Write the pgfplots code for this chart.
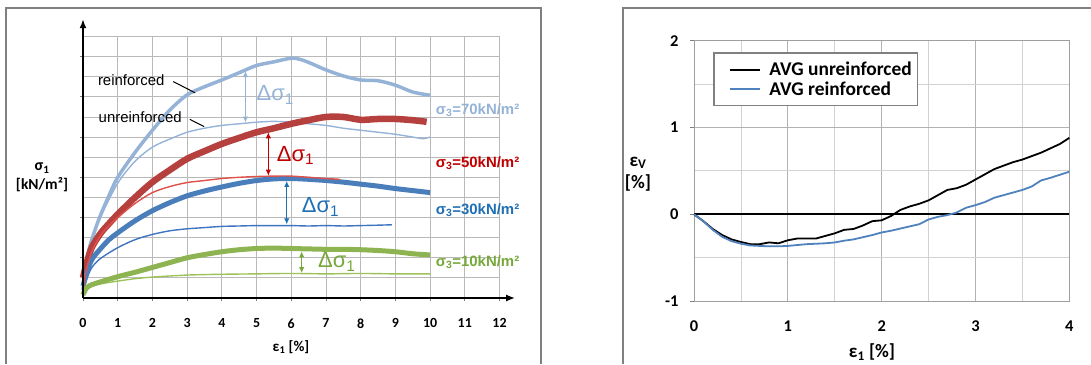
\documentclass[border=0pt]{standalone}
\usepackage{pgfplots}
\pgfplotsset{compat=1.18}
\usepackage{fontspec}
\setmainfont{Liberation Sans}
\newfontfamily\calib{Carlito}
\usetikzlibrary{arrows.meta}

\definecolor{lblue}{HTML}{95B3D7}
\definecolor{redthick}{HTML}{B5403D}
\definecolor{redthin}{HTML}{E0504A}
\definecolor{redtxt}{HTML}{C00000}
\definecolor{bluethick}{HTML}{4A7EBB}
\definecolor{bluethin}{HTML}{3F74C0}
\definecolor{bluetxt}{HTML}{1F6FB5}
\definecolor{greenthick}{HTML}{8DB451}
\definecolor{greenthin}{HTML}{9BC35A}
\definecolor{greentxt}{HTML}{77A83A}
\definecolor{avgblue}{HTML}{4F81BD}
\definecolor{framegray}{HTML}{808080}

\begin{document}
\begin{tikzpicture}[x=1bp,y=1bp]
\useasboundingbox (0,0) rectangle (1091,364);
\draw[framegray, line width=1.6bp] (6,0) -- (6,356) -- (541,356) -- (541,0);
\draw[framegray, line width=1.6bp] (623,0) -- (623,356) -- (1091,356);

% ---------------- left panel ----------------
\begin{axis}[at={(83bp,66bp)}, anchor=south west, scale only axis,
  width=416.5bp, height=261.5bp,
  xmin=0, xmax=12, ymin=0, ymax=6.5, clip=false,
  axis line style={draw=none},
  xtick={0,...,12}, ytick={1,...,6}, yticklabels={},
  minor ytick={0.5,1.5,...,6.5},
  grid=both,
  major grid style={gray!55, line width=0.8bp},
  minor grid style={gray!55, line width=0.8bp},
  tick align=outside, tick pos=left, major tick length=3bp, minor tick length=0pt,
  tick style={gray, line width=0.8bp},
  /pgf/number format/assume math mode=true,
  xticklabel style={font=\calib\bfseries\fontsize{14}{14}\selectfont, yshift=-14bp},
]
% unreinforced (thin)
\addplot[lblue, line width=1.4bp, smooth] coordinates {(0,0.1)(0.1,0.8)(0.25,1.4)(0.5,2.0)(1,2.85)(1.5,3.4)(2,3.75)(2.5,3.95)(3,4.12)(3.5,4.22)(4,4.29)(4.5,4.33)(5,4.37)(5.5,4.39)(6,4.37)(6.5,4.33)(7,4.29)(7.5,4.22)(8,4.17)(8.5,4.12)(9,4.07)(9.5,4.0)(9.8,3.96)(10,4.0)};
\addplot[bluethin, line width=1.4bp, smooth] coordinates {(0,0.1)(0.1,0.45)(0.25,0.75)(0.5,0.98)(1,1.25)(1.5,1.45)(2,1.58)(2.5,1.67)(3,1.72)(3.5,1.75)(4,1.78)(4.5,1.79)(5,1.8)(5.5,1.8)(6,1.8)(6.5,1.79)(7,1.8)(7.5,1.79)(8,1.8)(8.5,1.81)(8.9,1.82)};
\addplot[greenthin, line width=1.4bp, smooth] coordinates {(0,0.03)(0.1,0.2)(0.25,0.29)(0.5,0.35)(1,0.42)(1.5,0.48)(2,0.52)(3,0.57)(4,0.59)(5,0.6)(6,0.61)(7,0.6)(8,0.61)(9,0.6)(10,0.6)};
% reinforced (thick)
\addplot[lblue, line width=3.5bp, smooth] coordinates {(0,0.2)(0.1,0.9)(0.2,1.3)(0.35,1.7)(0.5,2.05)(0.75,2.55)(1,3.0)(1.5,3.62)(2,4.17)(2.5,4.67)(3,5.05)(3.5,5.25)(4,5.42)(4.5,5.6)(5,5.78)(5.5,5.87)(6,5.96)(6.3,5.92)(6.6,5.82)(7,5.67)(7.5,5.52)(8,5.42)(8.5,5.4)(9,5.29)(9.5,5.12)(10,5.04)};
\addplot[redthick, line width=6.5bp, smooth] coordinates {(0,0.5)(0.1,0.85)(0.25,1.25)(0.5,1.6)(0.75,1.85)(1,2.08)(1.5,2.5)(2,2.88)(2.5,3.18)(3,3.46)(3.5,3.65)(4,3.83)(4.5,3.98)(5,4.12)(5.5,4.22)(6,4.33)(6.5,4.42)(7,4.5)(7.5,4.5)(8,4.43)(8.5,4.45)(9,4.45)(9.5,4.42)(9.9,4.38)};
\addplot[bluethick, line width=5bp, smooth] coordinates {(0,0.3)(0.1,0.6)(0.25,0.95)(0.5,1.22)(0.75,1.45)(1,1.62)(1.5,1.92)(2,2.17)(2.5,2.37)(3,2.54)(3.5,2.66)(4,2.76)(4.5,2.85)(5,2.92)(5.5,2.96)(6,2.97)(6.5,2.95)(7,2.92)(7.5,2.88)(8,2.83)(8.5,2.78)(9,2.72)(9.5,2.67)(10,2.62)};
\addplot[greenthick, line width=5bp, smooth] coordinates {(0,0.08)(0.1,0.25)(0.25,0.33)(0.5,0.4)(1,0.53)(1.5,0.64)(2,0.76)(2.5,0.88)(3,1.0)(3.5,1.08)(4,1.15)(4.5,1.2)(5,1.23)(5.5,1.24)(6,1.23)(6.5,1.22)(7,1.21)(7.5,1.21)(8,1.2)(8.5,1.18)(9,1.15)(9.5,1.1)(10,1.07)};
\addplot[redthin, line width=1.4bp, smooth] coordinates {(0,0.2)(0.1,0.7)(0.25,1.15)(0.5,1.55)(0.75,1.8)(1,2.0)(1.5,2.35)(2,2.62)(2.5,2.77)(3,2.87)(3.5,2.92)(4,2.97)(4.5,3.0)(5,3.02)(5.5,3.03)(6,3.03)(6.5,3.0)(7,2.97)(7.4,2.95)};
% axes with arrows
\draw[black, line width=1.6bp, -{Latex[length=9bp,width=7bp]}] (axis cs:0,0) -- (axis cs:12.45,0);
\draw[black, line width=1.6bp, -{Latex[length=9bp,width=7bp]}] (axis cs:0,0) -- (axis cs:0,6.93);
% delta arrows
\draw[lblue, line width=1.5bp, {Latex[length=6bp,width=5.5bp]}-{Latex[length=6bp,width=5.5bp]}] (axis cs:4.68,5.64) -- (axis cs:4.68,4.36);
\draw[redtxt, line width=1.5bp, {Latex[length=6bp,width=5.5bp]}-{Latex[length=6bp,width=5.5bp]}] (axis cs:5.34,4.12) -- (axis cs:5.34,3.04);
\draw[bluetxt, line width=1.5bp, {Latex[length=6bp,width=5.5bp]}-{Latex[length=6bp,width=5.5bp]}] (axis cs:5.87,2.91) -- (axis cs:5.87,1.83);
\draw[greentxt, line width=1.5bp, {Latex[length=6bp,width=5.5bp]}-{Latex[length=6bp,width=5.5bp]}] (axis cs:6.3,1.16) -- (axis cs:6.3,0.62);
% delta labels
\node[lblue, anchor=west, font=\fontsize{22}{22}\selectfont, inner sep=0] at (axis cs:5.0,5.05) {Δσ\textsubscript{1}};
\node[redtxt, anchor=west, font=\fontsize{22}{22}\selectfont, inner sep=0] at (axis cs:5.58,3.55) {Δσ\textsubscript{1}};
\node[bluetxt, anchor=west, font=\fontsize{22}{22}\selectfont, inner sep=0] at (axis cs:6.30,2.26) {Δσ\textsubscript{1}};
\node[greentxt, anchor=west, font=\fontsize{22}{22}\selectfont, inner sep=0] at (axis cs:6.77,0.9) {Δσ\textsubscript{1}};
% sigma3 labels
\node[lblue, anchor=west, font=\bfseries\fontsize{15}{15}\selectfont, inner sep=0] at (axis cs:10.16,4.67) {σ\textsubscript{3}=70kN/m²};
\node[redtxt, anchor=west, font=\bfseries\fontsize{15}{15}\selectfont, inner sep=0] at (axis cs:10.16,3.36) {σ\textsubscript{3}=50kN/m²};
\node[bluetxt, anchor=west, font=\bfseries\fontsize{15}{15}\selectfont, inner sep=0] at (axis cs:10.16,2.19) {σ\textsubscript{3}=30kN/m²};
\node[greentxt, anchor=west, font=\bfseries\fontsize{15}{15}\selectfont, inner sep=0] at (axis cs:10.16,0.89) {σ\textsubscript{3}=10kN/m²};
% curve annotations
\node[font=\fontsize{15}{15}\selectfont, inner sep=0] at (axis cs:1.39,5.42) {reinforced};
\node[font=\fontsize{15}{15}\selectfont, inner sep=0] at (axis cs:1.65,4.49) {unreinforced};
\draw[black, line width=1bp] (axis cs:2.60,5.38) -- (axis cs:3.23,5.10);
\draw[black, line width=1bp] (axis cs:3.08,4.44) -- (axis cs:3.49,4.26);
\end{axis}
\node[font=\calib\bfseries\fontsize{16}{16}\selectfont] at (42,196) {σ\textsubscript{1}};
\node[font=\calib\bfseries\fontsize{15.5}{15.5}\selectfont] at (42,179) {[kN/m²]};
\node[font=\calib\bfseries\fontsize{15}{15}\selectfont] at (291,17) {ε\textsubscript{1} [\%]};

% ---------------- right panel ----------------
\begin{axis}[at={(694bp,63bp)}, anchor=south west, scale only axis,
  width=375.3bp, height=260.3bp,
  xmin=0, xmax=4, ymin=-1, ymax=2, clip=false,
  xtick={0,...,4}, ytick={-1,0,1,2},
  minor xtick={0.5,1.5,2.5,3.5}, minor ytick={-0.5,0.5,1.5},
  grid=both,
  major grid style={gray!60, line width=0.8bp},
  minor grid style={gray!35, line width=0.8bp},
  axis line style={gray!75, line width=0.8bp},
  tick align=outside, major tick length=4bp, minor tick length=0pt,
  xtick style={draw=none}, ytick style={gray, line width=0.8bp},
  ytick pos=left,
  /pgf/number format/assume math mode=true,
  tick label style={font=\calib\bfseries\fontsize{16.5}{16.5}\selectfont},
  xticklabel style={yshift=-12bp},
  yticklabel style={xshift=-8bp},
  legend style={at={(0.0514,0.955)}, anchor=north west, draw=gray, line width=1.3bp,
    font=\calib\bfseries\fontsize{19.5}{19.5}\selectfont, inner xsep=5bp, inner ysep=8.5bp,
    row sep=3.5bp, nodes={inner sep=0.5bp}},
  legend cell align=left,
  legend image code/.code={\path[draw=none] (0bp,0bp) -- (50bp,0bp); \draw[#1] (11bp,0bp) -- (41bp,0bp);},
]
\draw[black, line width=1.5bp] (axis cs:0,0) -- (axis cs:4,0);
\addplot[black, line width=1.8bp] coordinates {(0,0)(0.1,-0.08)(0.2,-0.17)(0.3,-0.24)(0.4,-0.29)(0.5,-0.32)(0.6,-0.345)(0.7,-0.345)(0.8,-0.325)(0.9,-0.335)(1.0,-0.3)(1.1,-0.28)(1.2,-0.28)(1.3,-0.28)(1.4,-0.25)(1.5,-0.22)(1.6,-0.18)(1.7,-0.17)(1.8,-0.13)(1.9,-0.08)(2.0,-0.07)(2.1,-0.02)(2.2,0.05)(2.3,0.09)(2.4,0.12)(2.5,0.16)(2.6,0.22)(2.7,0.28)(2.8,0.3)(2.9,0.34)(3.0,0.4)(3.1,0.46)(3.2,0.52)(3.3,0.56)(3.4,0.6)(3.5,0.63)(3.6,0.67)(3.7,0.71)(3.8,0.76)(3.9,0.81)(4.0,0.88)};
\addlegendentry{AVG unreinforced}
\addplot[avgblue, line width=1.8bp] coordinates {(0,0)(0.1,-0.08)(0.2,-0.18)(0.3,-0.26)(0.4,-0.31)(0.5,-0.34)(0.6,-0.36)(0.7,-0.365)(0.8,-0.37)(0.9,-0.37)(1.0,-0.365)(1.1,-0.355)(1.2,-0.345)(1.3,-0.34)(1.4,-0.335)(1.5,-0.325)(1.6,-0.305)(1.7,-0.29)(1.8,-0.265)(1.9,-0.24)(2.0,-0.21)(2.1,-0.19)(2.2,-0.165)(2.3,-0.14)(2.4,-0.115)(2.5,-0.06)(2.6,-0.03)(2.7,-0.01)(2.8,0.02)(2.9,0.075)(3.0,0.105)(3.1,0.14)(3.2,0.19)(3.3,0.22)(3.4,0.25)(3.5,0.28)(3.6,0.32)(3.7,0.39)(3.8,0.42)(3.9,0.455)(4.0,0.49)};
\addlegendentry{AVG reinforced}
\end{axis}
\node[font=\calib\bfseries\fontsize{19}{19}\selectfont] at (638,201) {ε\textsubscript{V}};
\node[font=\calib\bfseries\fontsize{19}{19}\selectfont] at (638,181) {[\%]};
\node[font=\calib\bfseries\fontsize{19}{19}\selectfont] at (872,12) {ε\textsubscript{1} [\%]};
\end{tikzpicture}
\end{document}
